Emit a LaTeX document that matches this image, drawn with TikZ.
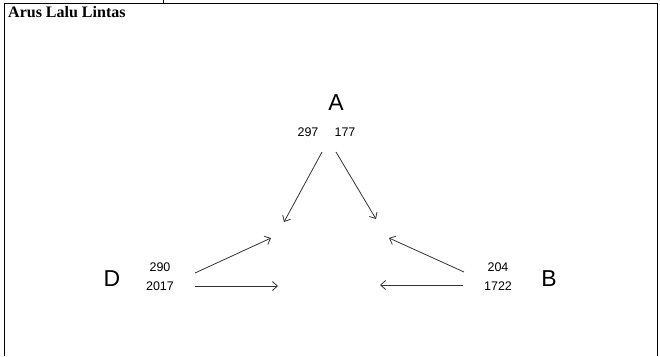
\documentclass[tikz,border=0pt]{standalone}
\usepackage{fontspec}
\setmainfont{Liberation Serif}
\newfontfamily\arialfont{Liberation Sans}
\usetikzlibrary{arrows, arrows.meta}

\begin{document}
\begin{tikzpicture}[x=1pt,y=-1pt,
  leg/.style={font=\arialfont\fontsize{23}{23}\selectfont, inner sep=0pt},
  num/.style={font=\arialfont\fontsize{12.5}{13}\selectfont, inner sep=0pt},
  flow/.style={draw=black!80, line width=0.8pt, -{Straight Barb[length=5pt,width=9pt]}}]
\useasboundingbox (0,0) rectangle (660,356);
% frame
\draw[line width=1pt] (4.5,356) -- (4.5,3) -- (657,3) -- (657,356);
\draw[line width=1pt] (163,0) -- (163,3);
\node[anchor=west, inner sep=0pt, font=\bfseries\fontsize{16}{17}\selectfont] (title) at (8,12) {Arus Lalu Lintas};
% legs
\node[leg] (A) at (336,103) {A};
\node[num] (A1) at (308,132) {297};
\node[num] (A2) at (345,132) {177};
\node[leg] (D) at (112,279) {D};
\node[num] (D1) at (160,267) {290};
\node[num] (D2) at (160,286) {2017};
\node[leg] (B) at (549,279) {B};
\node[num] (B1) at (498,267) {204};
\node[num] (B2) at (498,286) {1722};
% arrow ends
\coordinate (a1) at (322,152);
\coordinate (a1e) at (284,222);
\coordinate (a2) at (336,152);
\coordinate (a2e) at (376,219);
\coordinate (d1) at (195,273);
\coordinate (d1e) at (271,238);
\coordinate (d2) at (195,286);
\coordinate (d2e) at (278,286);
\coordinate (b1) at (464,272);
\coordinate (b1e) at (389,238);
\coordinate (b2) at (463,285);
\coordinate (b2e) at (380,285);
\draw[flow] (a1) -- (a1e);
\draw[flow] (a2) -- (a2e);
\draw[flow] (d1) -- (d1e);
\draw[flow] (d2) -- (d2e);
\draw[flow] (b1) -- (b1e);
\draw[flow] (b2) -- (b2e);
\end{tikzpicture}
\end{document}
